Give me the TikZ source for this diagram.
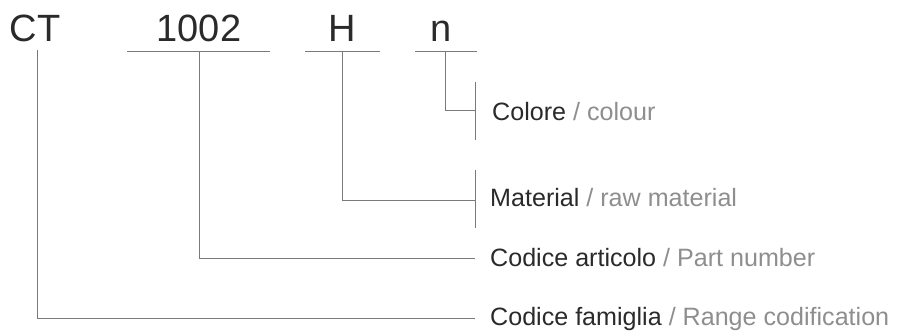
\documentclass[tikz,border=0pt]{standalone}
\usepackage{fontspec}
\setmainfont{Liberation Sans}
\definecolor{linegray}{HTML}{7A7A7A}
\definecolor{darktxt}{HTML}{2A2A2A}
\definecolor{lighttxt}{HTML}{8E8E8E}
\begin{document}
\begin{tikzpicture}[x=1pt,y=-1pt,
  conn/.style={draw=linegray, line width=0.9pt},
  code/.style={font=\fontsize{38}{40}\selectfont, text=darktxt, inner sep=0pt, anchor=base},
  lab/.style={font=\fontsize{25.1}{28}\selectfont, inner sep=0pt, anchor=base west}]
\useasboundingbox (0,0) rectangle (900,336);
% codes
\node[code] (ct) at (35,42) {CT};
\node[code] (num) at (199,42) {1002};
\node[code] (h) at (342,42) {H};
\node[code] (n) at (441,42) {n};
% underlines
\coordinate (numL) at (127,51); \coordinate (numR) at (270,51);
\coordinate (hL) at (305,51); \coordinate (hR) at (380,51);
\coordinate (nL) at (415,51); \coordinate (nR) at (477,51);
\draw[conn] (numL) -- (numR);
\draw[conn] (hL) -- (hR);
\draw[conn] (nL) -- (nR);
% labels
\node[lab] (col) at (492,121) {\textcolor{darktxt}{Colore}\ \textcolor{lighttxt}{/ colour}};
\node[lab] (mat) at (490,207) {\textcolor{darktxt}{Material}\ \textcolor{lighttxt}{/ raw material}};
\node[lab] (art) at (490,267) {\textcolor{darktxt}{Codice articolo}\ \textcolor{lighttxt}{/ Part number}};
\node[lab] (fam) at (490,326) {\textcolor{darktxt}{Codice famiglia}\ \textcolor{lighttxt}{/ Range codification}};
% bars
\coordinate (colT) at (475,82); \coordinate (colB) at (475,140);
\coordinate (matT) at (475,170); \coordinate (matB) at (475,228);
\draw[conn] (colT) -- (colB);
\draw[conn] (matT) -- (matB);
% connectors
\coordinate (nTop) at (445,51); \coordinate (colJ) at (475,110);
\draw[conn] (nTop) |- (colJ);
\coordinate (hTop) at (342,51); \coordinate (matJ) at (475,200);
\draw[conn] (hTop) |- (matJ);
\coordinate (numTop) at (199,51); \coordinate (artJ) at (475,258);
\draw[conn] (numTop) |- (artJ);
\coordinate (ctTop) at (37,50); \coordinate (famJ) at (475,318);
\draw[conn] (ctTop) |- (famJ);
\end{tikzpicture}
\end{document}
